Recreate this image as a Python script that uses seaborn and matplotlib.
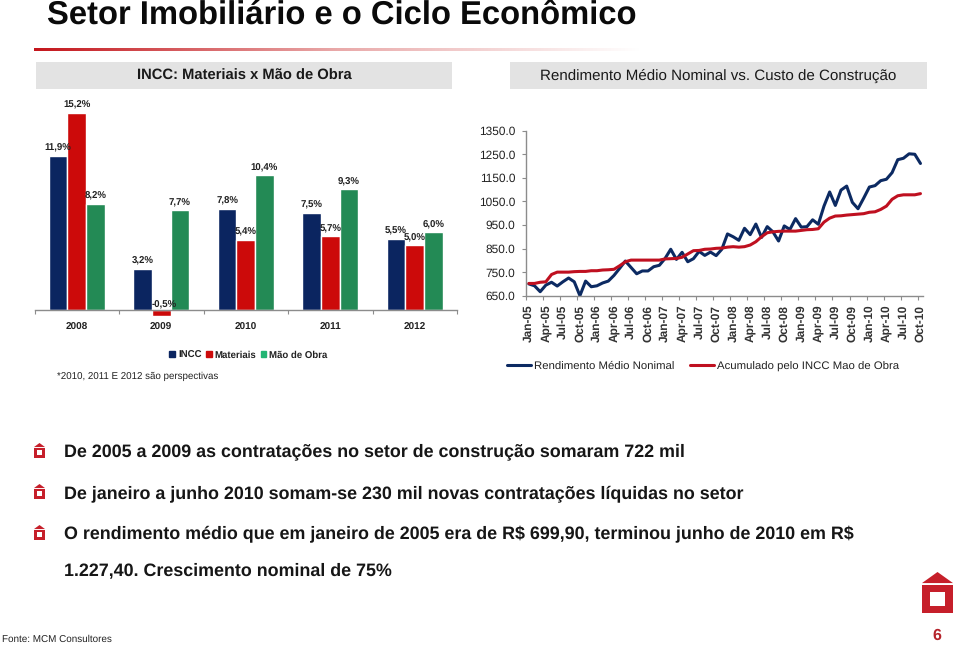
import numpy as np
import pandas as pd
import matplotlib
matplotlib.use("Agg")
import matplotlib.pyplot as plt
from matplotlib.patches import Rectangle, Polygon
from matplotlib.lines import Line2D
from matplotlib.colors import LinearSegmentedColormap
import seaborn as sns

# bar chart data
years = ["2008", "2009", "2010", "2011", "2012"]
incc = [11.9, 3.2, 7.8, 7.5, 5.5]
materiais = [15.2, -0.5, 5.4, 5.7, 5.0]
mao_de_obra = [8.2, 7.7, 10.4, 9.3, 6.0]

# line chart data
meses = ["Jan", "Feb", "Mar", "Apr", "May", "Jun", "Jul", "Aug", "Sep", "Oct", "Nov", "Dec"]
anos = ["05", "06", "07", "08", "09", "10"]
rendimento = [700, 692, 667, 695, 707, 691, 709, 725, 709, 650, 712, 688,
              692, 704, 712, 736, 766, 797, 770, 743, 755, 755, 773, 779,
              808, 847, 804, 834, 794, 807, 838, 821, 835, 820, 847, 912,
              900, 885, 936, 909, 954, 897, 943, 921, 882, 946, 931, 977,
              941, 943, 972, 953, 1030, 1090, 1033, 1098, 1115, 1046, 1019, 1064,
              1111, 1117, 1138, 1144, 1172, 1227, 1233, 1252, 1250, 1211]
acumulado = [702, 702, 707, 709, 740, 750, 750, 750, 752, 753, 753, 756,
             756, 759, 760, 762, 777, 794, 801, 801, 801, 801, 801, 801,
             806, 807, 808, 813, 827, 841, 842, 847, 848, 851, 852, 856,
             858, 856, 858, 865, 879, 900, 917, 921, 923, 924, 924, 924,
             927, 930, 931, 934, 962, 979, 988, 989, 992, 994, 996, 998,
             1004, 1006, 1016, 1030, 1059, 1074, 1078, 1078, 1078, 1083]
y_ticks = [650, 750, 850, 950, 1050, 1150, 1250, 1350]

bullets = ["De 2005 a 2009 as contratações no setor de construção somaram 722 mil",
           "De janeiro a junho 2010 somam-se 230 mil novas contratações líquidas no setor",
           "O rendimento médio que em janeiro de 2005 era de R\\$ 699,90, terminou junho de 2010 em R\\$",
           "1.227,40. Crescimento nominal de 75%"]

NAVY = "#0b2560"
RED = "#cc0a0a"
GREEN = "#238a55"
LINE_NAVY = "#0c2a62"
LINE_RED = "#bf1020"
AXIS = "#8c8c8c"

sns.set_theme(style="white")
plt.rcParams["font.family"] = ["Liberation Sans", "DejaVu Sans"]
plt.rcParams["text.hinting"] = "no_hinting"

W, H = 960, 645
fig = plt.figure(figsize=(9.6, 6.45), dpi=100)


def px_axes(x0, y0, x1, y1):
    return fig.add_axes([x0 / W, 1 - y1 / H, (x1 - x0) / W, (y1 - y0) / H])


# overlay for header, bands, icons, text (pixel coordinates)
bg = fig.add_axes([0, 0, 1, 1], zorder=0)
bg.axis("off")

bg.text(47, 15.5, "Setor Imobiliário e o Ciclo Econômico", fontsize=23.6, fontweight="bold",
        color="#0a0a0a", va="center", ha="left")

fade = LinearSegmentedColormap.from_list("fade", ["#c4161c", "#e9a9a9", "#ffffff"])
bg.imshow(np.linspace(0, 1, 256).reshape(1, -1), cmap=fade, aspect="auto",
          extent=(34, 640, 51.5, 48.5), zorder=1)
bg.set_xlim(0, W)
bg.set_ylim(H, 0)

for x0, x1, label, size in [(36, 452, "INCC: Materiais x Mão de Obra", 10.6),
                            (510, 927, "Rendimento Médio Nominal vs. Custo de Construção", 10.9)]:
    bg.add_patch(Rectangle((x0, 62), x1 - x0, 27, color="#e3e3e3", lw=0))
    bg.text((x0 + x1) / 2, 76, label, fontsize=size, fontweight="bold" if x0 < 100 else "normal",
            color="#1a1a1a", ha="center", va="center")


def house(cx, top, w, h, color="#c61f2a"):
    roof = h * 0.27
    bg.add_patch(Polygon([(cx - w / 2, top + roof), (cx, top), (cx + w / 2, top + roof)],
                         closed=True, color=color, lw=0))
    body_top = top + roof + h * 0.05
    body_h = h - roof - h * 0.05
    bg.add_patch(Rectangle((cx - w / 2, body_top), w, body_h, color=color, lw=0))
    bg.add_patch(Rectangle((cx - w * 0.25, body_top + body_h * 0.25), w * 0.5, body_h * 0.5,
                           color="white", lw=0))


for y, text in zip([452, 493.5, 534, 571], bullets):
    bg.text(64, y, text, fontsize=12.9, fontweight="bold", color="#161616", va="center", ha="left")
for y in [450, 491, 532]:
    house(39.5, y - 7, 11, 15)
house(937.5, 572, 31, 41)

bg.text(2, 639, "Fonte: MCM Consultores", fontsize=7.1, color="#222222", va="center", ha="left")
bg.text(937, 636, "6", fontsize=11.5, fontweight="bold", color="#b5232b", va="center", ha="center")
bg.text(57, 376, "*2010, 2011 E 2012 são perspectivas", fontsize=7, color="#222222", va="center", ha="left")

# bar chart
ax = px_axes(34.5, 100, 457, 322)
ax.patch.set_alpha(0)
df_bar = pd.DataFrame({"ano": years, "INCC": incc, "Materiais": materiais, "Mão de Obra": mao_de_obra})
df_bar = df_bar.melt(id_vars="ano", var_name="serie", value_name="valor")
sns.barplot(data=df_bar, x="ano", y="valor", hue="serie", order=years, ax=ax, width=0.66, saturation=1,
            palette=[NAVY, RED, GREEN], legend=False)
ax.set_xlim(-0.5, 4.5)
# 15.2 sits at 113 px and the baseline at 310 px
ax.set_ylim((310 - 322) / 12.96, (310 - 100) / 12.96)
ax.set_xlabel("")
ax.set_ylabel("")
ax.set_yticks([])
for side in ["top", "right", "left"]:
    ax.spines[side].set_visible(False)
ax.spines["bottom"].set_position(("data", 0))
ax.spines["bottom"].set_color(AXIS)
ax.spines["bottom"].set_linewidth(1)
ax.set_xticks(np.arange(-0.5, 5), minor=True)
ax.tick_params(axis="x", which="minor", bottom=True, length=3, color=AXIS, width=0.8)
ax.tick_params(axis="x", which="major", bottom=False, labelbottom=False)
for i, y in enumerate(years):
    ax.annotate(y, (i, 0), xytext=(0, -12.5), textcoords="offset points", ha="center", va="center",
                fontsize=7.2, fontweight="bold", color="#222222", annotation_clip=False)
for container in ax.containers:
    for bar in container:
        v = bar.get_height()
        label = f"{v:.1f}%".replace(".", ",")
        offset = (2, 0) if v < 0 else (0, 2.2)
        ax.annotate(label, (bar.get_x() + bar.get_width() / 2, max(v, 0)), xytext=offset,
                    textcoords="offset points", ha="center", va="bottom", fontsize=6.9,
                    fontweight="bold", color="#222222", annotation_clip=False)
ax.legend(handles=[Rectangle((0, 0), 1, 1, color=NAVY), Rectangle((0, 0), 1, 1, color=RED),
                   Rectangle((0, 0), 1, 1, color="#22b573")],
          labels=["INCC", "Materiais", "Mão de Obra"], ncol=3, frameon=False,
          prop={"weight": "bold", "size": 6.9},
          handlelength=0.6, handleheight=0.6, handletextpad=0.3, columnspacing=0.45, labelcolor="#222222",
          loc="center", bbox_to_anchor=((248.5 - 34.5) / 422.5, (322 - 355) / 222))

# line chart
ax2 = px_axes(526, 130.7, 923.3, 295.7)
ax2.patch.set_alpha(0)
etiquetas = [f"{m}-{a}" for a in anos for m in meses][:70]
df_line = pd.DataFrame({"mes": etiquetas, "Rendimento Médio Nonimal": rendimento,
                        "Acumulado pelo INCC Mao de Obra": acumulado})
sns.lineplot(data=df_line, x="mes", y="Rendimento Médio Nonimal", color=LINE_NAVY, lw=2.2, ax=ax2, sort=False)
sns.lineplot(data=df_line, x="mes", y="Acumulado pelo INCC Mao de Obra", color=LINE_RED, lw=2.2, ax=ax2, sort=False)
ax2.set_xlim(-0.5, 69.5)
ax2.set_ylim(650, 1350)
ax2.set_xlabel("")
ax2.set_ylabel("")
ax2.set_yticks(y_ticks)
ax2.set_yticklabels([f"{t:.1f}" for t in y_ticks], fontsize=8.6, color="#222222")
ax2.set_xticks(range(0, 70, 3))
ax2.set_xticklabels(etiquetas[::3], rotation=90, fontsize=8.6, fontweight="bold", color="#333333")
ax2.set_xticks(np.arange(-0.5, 70, 3), minor=True)
ax2.tick_params(axis="x", which="major", bottom=False, pad=0.5)
ax2.tick_params(axis="x", which="minor", bottom=True, length=3, color=AXIS, width=0.8)
ax2.tick_params(axis="y", left=True, length=3, color=AXIS, width=0.8, pad=4.5)
for side in ["top", "right"]:
    ax2.spines[side].set_visible(False)
for side in ["left", "bottom"]:
    ax2.spines[side].set_color(AXIS)
    ax2.spines[side].set_linewidth(1)
ax2.legend(handles=[Line2D([], [], color=LINE_NAVY, lw=2.2), Line2D([], [], color=LINE_RED, lw=2.2)],
           labels=["Rendimento Médio Nonimal", "Acumulado pelo INCC Mao de Obra"], ncol=2, frameon=False,
           fontsize=8.2, handlelength=2.1, handletextpad=0.25, columnspacing=1.4, labelcolor="#222222",
           loc="center", bbox_to_anchor=((703 - 526) / 397.3, (295.7 - 366.5) / 165))

fig.savefig("out.png", dpi=100)
